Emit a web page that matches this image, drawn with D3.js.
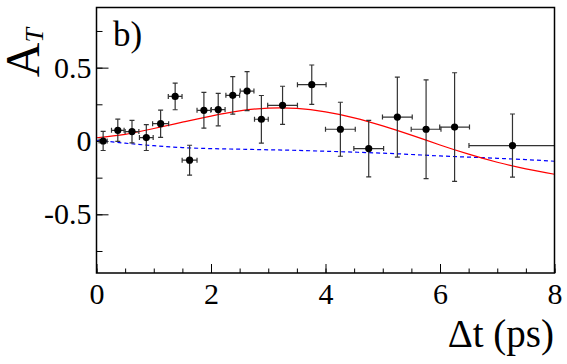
<!DOCTYPE html>
<html>
<head>
<meta charset="utf-8">
<script src="https://cdn.jsdelivr.net/npm/d3@7"></script>
<style>
  body { margin: 0; background: #fff; }
  svg { font-family: "Liberation Serif", "DejaVu Serif", serif; }
  .axis text { font-family: "Liberation Serif", "DejaVu Serif", serif; font-size: 30px; fill: #000; }
  .axis line { stroke: #000; stroke-width: 1; }
  .axis path { display: none; }
</style>
</head>
<body>
<svg id="chart" width="567" height="364"></svg>
<script>
// measured points: delta t (ps), asymmetry, errors
var dt    = [0.116, 0.372, 0.62, 0.87, 1.12, 1.374, 1.626, 1.876, 2.126, 2.38, 2.63, 2.88, 3.25, 3.76, 4.26, 4.755, 5.255, 5.757, 6.255, 7.266];
var asym  = [0.0, 0.073, 0.064, 0.023, 0.118, 0.304, -0.131, 0.209, 0.214, 0.311, 0.34, 0.148, 0.243, 0.384, 0.08, -0.052, 0.163, 0.08, 0.095, -0.031];
var dtErr = [0.07, 0.11, 0.12, 0.12, 0.14, 0.12, 0.13, 0.12, 0.12, 0.12, 0.12, 0.12, 0.26, 0.25, 0.26, 0.26, 0.26, 0.26, 0.26, 0.76];
var aErr  = [0.065, 0.076, 0.077, 0.088, 0.093, 0.091, 0.102, 0.122, 0.111, 0.128, 0.133, 0.162, 0.13, 0.134, 0.184, 0.193, 0.273, 0.336, 0.37, 0.215];

// fitted curves
var curveT   = [0, 0.5, 1, 1.5, 2, 2.5, 3, 3.5, 4, 4.5, 5, 5.5, 6, 6.5, 7, 7.5, 8];
var fitRed   = [0.022, 0.045, 0.085, 0.128, 0.17, 0.205, 0.224, 0.222, 0.198, 0.158, 0.103, 0.04, -0.027, -0.09, -0.145, -0.19, -0.227];
var fitBlue  = [0.005, -0.015, -0.032, -0.045, -0.052, -0.056, -0.06, -0.064, -0.07, -0.076, -0.083, -0.092, -0.102, -0.11, -0.118, -0.127, -0.138];

var xTicks = [0, 2, 4, 6, 8];
var xMinor = d3.range(0, 8.01, 0.5);
var yTicks = [-0.5, 0, 0.5];
var yTickLabels = ["-0.5", "0", "0.5"];
var yMinor = [-0.75, -0.5, -0.25, 0, 0.25, 0.5, 0.75];

var pLeft = 96.5, pRight = 554.5, pTop = 7.5, pBottom = 273;

var svg = d3.select("#chart");

var x = d3.scaleLinear().domain([0, 8]).range([pLeft, pRight]);
var y = d3.scaleLinear().domain([-0.9, 0.91]).range([pBottom, pTop]);

// minor ticks
svg.append("g")
	.attr("class", "axis")
	.attr("transform", "translate(" + pLeft + ",0)")
	.call(d3.axisLeft(y).tickValues(yMinor).tickSize(-6).tickFormat(""));
svg.append("g")
	.attr("class", "axis")
	.attr("transform", "translate(0," + pBottom + ")")
	.call(d3.axisBottom(x).tickValues(xMinor).tickSize(-4.5).tickFormat(""));

// major ticks + labels
svg.append("g")
	.attr("class", "axis")
	.attr("transform", "translate(" + pLeft + ",0)")
	.call(d3.axisLeft(y).tickValues(yTicks).tickSize(-12).tickPadding(5)
		.tickFormat(function(d, i){ return yTickLabels[i]; }));
svg.append("g")
	.attr("class", "axis")
	.attr("transform", "translate(0," + pBottom + ")")
	.call(d3.axisBottom(x).tickValues(xTicks).tickSize(-9).tickPadding(10));

svg.append("clipPath").attr("id", "plotclip")
	.append("rect")
	.attr("x", pLeft).attr("y", pTop)
	.attr("width", pRight - pLeft).attr("height", pBottom - pTop);

var plot = svg.append("g").attr("clip-path", "url(#plotclip)");

var line = d3.line()
	.x(function(d, i){ return x(curveT[i]); })
	.y(function(d){ return y(d); })
	.curve(d3.curveNatural);

plot.append("path")
	.attr("d", line(fitBlue))
	.attr("fill", "none")
	.attr("stroke", "#0000ff")
	.attr("stroke-width", 1.2)
	.attr("stroke-dasharray", "4,3");

plot.append("path")
	.attr("d", line(fitRed))
	.attr("fill", "none")
	.attr("stroke", "#ff0000")
	.attr("stroke-width", 1.2);

// error bars
var pts = dt.map(function(d, i){ return { t: d, a: asym[i], ex: dtErr[i], ey: aErr[i] }; });
var cap = 2.5;
var eb = plot.selectAll("g.pt").data(pts).enter().append("g").attr("class", "pt")
	.attr("stroke", "#333").attr("stroke-width", 1.2);

eb.append("line")
	.attr("x1", function(d){ return x(d.t - d.ex); })
	.attr("x2", function(d){ return x(d.t + d.ex); })
	.attr("y1", function(d){ return y(d.a); })
	.attr("y2", function(d){ return y(d.a); });
eb.append("line")
	.attr("x1", function(d){ return x(d.t); })
	.attr("x2", function(d){ return x(d.t); })
	.attr("y1", function(d){ return y(d.a - d.ey); })
	.attr("y2", function(d){ return y(d.a + d.ey); });
[-1, 1].forEach(function(s){
	eb.append("line")
		.attr("x1", function(d){ return x(d.t + s * d.ex); })
		.attr("x2", function(d){ return x(d.t + s * d.ex); })
		.attr("y1", function(d){ return y(d.a) - cap; })
		.attr("y2", function(d){ return y(d.a) + cap; });
	eb.append("line")
		.attr("x1", function(d){ return x(d.t) - cap; })
		.attr("x2", function(d){ return x(d.t) + cap; })
		.attr("y1", function(d){ return y(d.a + s * d.ey); })
		.attr("y2", function(d){ return y(d.a + s * d.ey); });
});

plot.selectAll("circle.pt").data(pts).enter().append("circle")
	.attr("class", "pt")
	.attr("cx", function(d){ return x(d.t); })
	.attr("cy", function(d){ return y(d.a); })
	.attr("r", 3.6)
	.attr("fill", "#000");

// frame
svg.append("rect")
	.attr("x", pLeft).attr("y", pTop)
	.attr("width", pRight - pLeft).attr("height", pBottom - pTop)
	.attr("fill", "none")
	.attr("stroke", "#000")
	.attr("stroke-width", 1.5);

// labels
svg.append("text")
	.attr("x", 113).attr("y", 45.5)
	.attr("font-size", 35)
	.text("b)");

svg.append("text")
	.attr("x", 554).attr("y", 347)
	.attr("text-anchor", "end")
	.attr("font-size", 39)
	.text("\u0394t (ps)");

var yt = svg.append("text")
	.attr("transform", "translate(39,28) rotate(-90)")
	.attr("text-anchor", "end")
	.attr("font-size", 48);
yt.append("tspan").text("A");
yt.append("tspan").attr("font-size", 26).attr("font-style", "italic").attr("dy", 4).text("T");
</script>
</body>
</html>
